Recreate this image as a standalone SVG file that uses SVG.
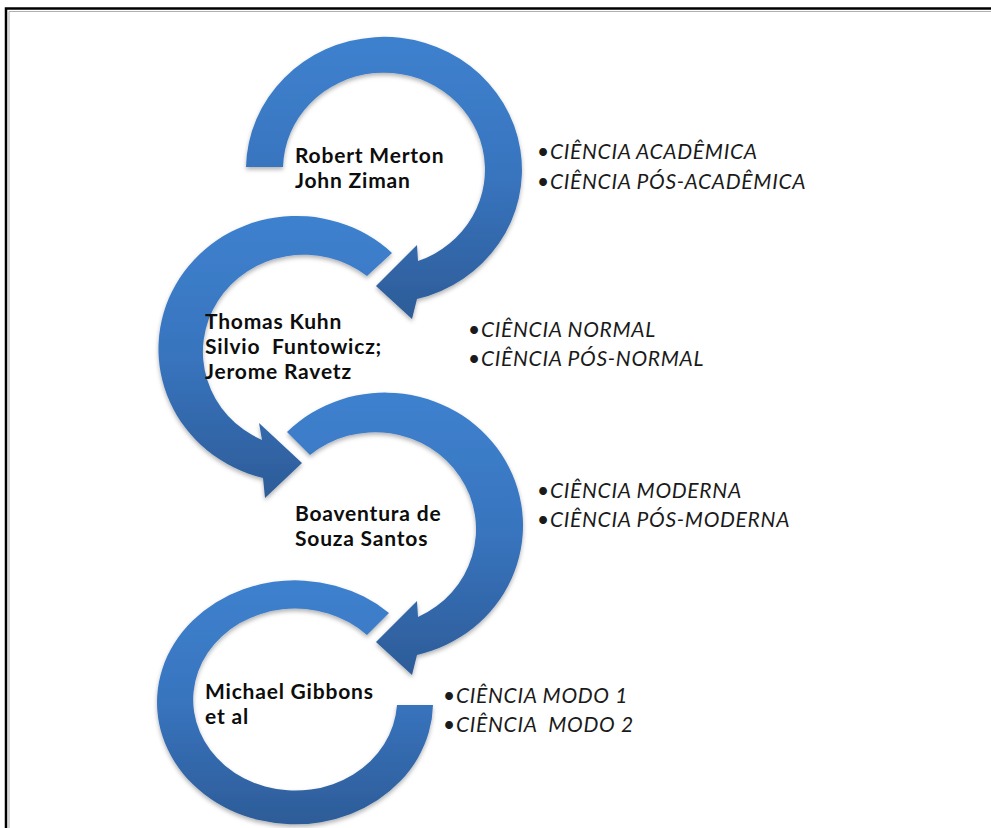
<svg xmlns="http://www.w3.org/2000/svg" width="991" height="828" viewBox="0 0 991 828">
<defs>
<linearGradient id="ringGrad" x1="0" y1="0" x2="0" y2="1">
<stop offset="0" stop-color="#3e81ce"/>
<stop offset="0.5" stop-color="#3874be"/>
<stop offset="1" stop-color="#2d5c98"/>
</linearGradient>
<filter id="shadow" x="-10%" y="-10%" width="120%" height="125%">
<feDropShadow dx="0" dy="2.5" stdDeviation="2.2" flood-color="#000" flood-opacity="0.3"/>
</filter>
<style>
.ring{fill:url(#ringGrad);filter:url(#shadow);}
.name{font-family:Lato,"Liberation Sans",sans-serif;font-weight:bold;font-size:21px;letter-spacing:0.8px;fill:#0d0d0d;}
.item{font-family:Lato,"Liberation Sans",sans-serif;font-style:italic;font-size:21px;letter-spacing:0.7px;fill:#1a1a1a;}
.frame{fill:none;stroke:#000;stroke-width:2.5;}
.frame2{fill:none;stroke:#b0b0b0;stroke-width:1;}
</style>
</defs>
<rect width="991" height="828" fill="#fff"/>
<path class="frame" d="M6,828 V8.5 H991"/>
<path class="frame2" d="M9,828 V11.5 H991"/>

<g id="node-merton-ziman">
<path class="ring" d="M283,167 L246,167 A138 133 0 1 1 417,299 L412,319 L376,286 L417,245 L418,261 A101 97 0 1 0 283,167 Z"/>
<text class="name" x="295" y="163">Robert Merton</text>
<text class="name" x="295" y="188">John Ziman</text>
</g>

<g id="node-kuhn-funtowicz-ravetz">
<path class="ring" d="M367,276 L392,253 A138 133 0 1 0 263,478 L265,498 L302,463 L259,423 L262,440 A101 97 0 1 1 367,276 Z"/>
<text class="name" x="205" y="329">Thomas Kuhn</text>
<text class="name" x="205" y="354" xml:space="preserve">Silvio  Funtowicz;</text>
<text class="name" x="205" y="379">Jerome Ravetz</text>
</g>

<g id="node-boaventura">
<path class="ring" d="M310,455 L287,432 A138 133 0 1 1 417,655 L412,675 L376,642 L417,601 L418,617 A101 97 0 1 0 310,455 Z"/>
<text class="name" x="295" y="521">Boaventura de</text>
<text class="name" x="295" y="546">Souza Santos</text>
</g>

<g id="node-gibbons">
<path class="ring" d="M367,635 L389,613 A138 122 0 1 0 433,705 L397,705 A102 91 0 1 1 367,635 Z"/>
<text class="name" x="205" y="699">Michael Gibbons</text>
<text class="name" x="205" y="724">et al</text>
</g>

<g id="list-academica">
<text class="item" x="537" y="159">•CIÊNCIA ACADÊMICA</text>
<text class="item" x="537" y="189">•CIÊNCIA PÓS-ACADÊMICA</text>
</g>
<g id="list-normal">
<text class="item" x="468" y="337">•CIÊNCIA NORMAL</text>
<text class="item" x="468" y="366">•CIÊNCIA PÓS-NORMAL</text>
</g>
<g id="list-moderna">
<text class="item" x="537" y="498">•CIÊNCIA MODERNA</text>
<text class="item" x="537" y="527">•CIÊNCIA PÓS-MODERNA</text>
</g>
<g id="list-modo">
<text class="item" x="443" y="703">•CIÊNCIA MODO 1</text>
<text class="item" x="443" y="732" xml:space="preserve">•CIÊNCIA  MODO 2</text>
</g>
<g id="connectors"/>
</svg>
